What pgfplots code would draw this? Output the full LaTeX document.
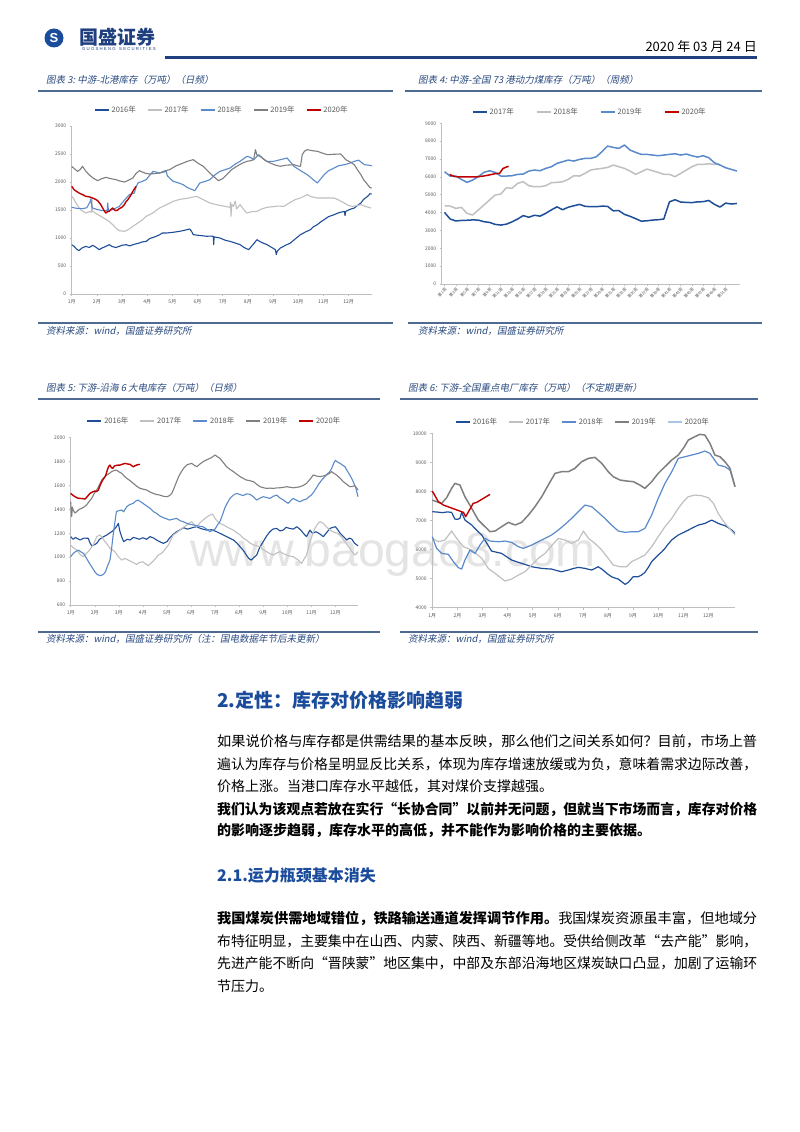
\documentclass[border=0pt]{standalone}
\usepackage{pgfplots}
\pgfplotsset{compat=1.18}
\usepackage{fontspec}
\usepackage{graphicx}
\setmainfont{Noto Sans CJK SC}
\newfontfamily\cjkit[FakeSlant=0.2]{Noto Sans CJK SC}
\newfontfamily\lsans{Liberation Sans}
\definecolor{cA}{HTML}{1F4E99}
\definecolor{cB}{HTML}{C0C0C0}
\definecolor{cC}{HTML}{5A8ACB}
\definecolor{cD}{HTML}{7F7F7F}
\definecolor{cE}{HTML}{C00000}
\definecolor{cF}{HTML}{A9C6E8}
\definecolor{axisgray}{HTML}{BFBFBF}
\definecolor{ticktext}{HTML}{595959}
\definecolor{titleblue}{HTML}{2A4A80}
\definecolor{rulecol}{HTML}{4F6A90}
\definecolor{headblue}{HTML}{1B4C9C}
\definecolor{navy}{HTML}{1F3F7F}
\definecolor{wmark}{HTML}{E4E4E4}
\pgfplotsset{
 chartbase/.style={
   scale only axis, clip=false, scaled ticks=false,
   axis x line*=bottom, axis y line*=left,
   axis line style={draw=axisgray, line width=0.6pt},
   tick style={draw=axisgray, line width=0.5pt},
   major tick length=2pt, tick align=outside,
   ticklabel style={font=\fontsize{5}{6}\selectfont, text=ticktext},
   /pgf/number format/1000 sep={},
   /pgf/number format/assume math mode=true,
   legend style={draw=none, fill=none, font=\fontsize{7.5}{9}\selectfont, text=ticktext,
     legend columns=-1, anchor=center, /tikz/every even column/.append style={column sep=9pt}},
   legend image code/.code={\draw[#1, line width=1.8pt] (0pt,0pt) -- (14pt,0pt);},
   every axis plot/.append style={line join=round},
 },
 monthx/.style={xtick={0,...,11}, xticklabels={1月,2月,3月,4月,5月,6月,7月,8月,9月,10月,11月,12月}},
}
\begin{document}
\begin{tikzpicture}[x=1pt,y=1pt]
\useasboundingbox (0,0) rectangle (800,-1132);
\fill[white] (0,0) rectangle (800,-1132);
% header
\fill[headblue] (54,-38) circle (9.5);
\node[text=white, font=\lsans\bfseries\fontsize{13}{13}\selectfont] at (54,-38) {S};
\node[anchor=west, inner sep=0, text=navy, font=\bfseries\fontsize{19}{19}\selectfont] at (79,-37) {国盛证券};
\node[anchor=west, inner sep=0, text=navy, font=\lsans\fontsize{4.3}{5}\selectfont] at (82,-49) {G U O S H E N G \ \ S E C U R I T I E S};
\draw[navy, line width=2.2pt] (165,-57.5) -- (757,-57.5);
\node[anchor=east, inner sep=0, font=\fontsize{13}{14}\selectfont] at (757,-47) {2020 年 03 月 24 日};
% figure titles and rules
\node[anchor=west, inner sep=0, text=titleblue, font=\cjkit\fontsize{9.5}{10}\selectfont] at (46,-80) {图表 3:\ 中游-北港库存（万吨）（日频）};
\node[anchor=west, inner sep=0, text=titleblue, font=\cjkit\fontsize{9.5}{10}\selectfont] at (418,-80) {图表 4:\ 中游-全国 73 港动力煤库存（万吨）（周频）};
\draw[rulecol, line width=1.4pt] (38,-91) -- (393,-91);
\draw[rulecol, line width=1.4pt] (405,-91) -- (762,-91);
\draw[rulecol, line width=1.4pt] (38,-323) -- (393,-323);
\draw[rulecol, line width=1.4pt] (408,-323) -- (762,-323);
\node[anchor=west, inner sep=0, text=titleblue, font=\cjkit\fontsize{9.5}{10}\selectfont] at (46,-331) {资料来源：wind，国盛证券研究所};
\node[anchor=west, inner sep=0, text=titleblue, font=\cjkit\fontsize{9.5}{10}\selectfont] at (418,-331) {资料来源：wind，国盛证券研究所};
\node[anchor=west, inner sep=0, text=titleblue, font=\cjkit\fontsize{9.5}{10}\selectfont] at (46,-388) {图表 5:\ 下游-沿海 6 大电库存（万吨）（日频）};
\node[anchor=west, inner sep=0, text=titleblue, font=\cjkit\fontsize{9.5}{10}\selectfont] at (408,-388) {图表 6:\ 下游-全国重点电厂库存（万吨）（不定期更新）};
\draw[rulecol, line width=1.4pt] (38,-399) -- (380,-399);
\draw[rulecol, line width=1.4pt] (400,-399) -- (758,-399);
\draw[rulecol, line width=1.4pt] (38,-632) -- (380,-632);
\draw[rulecol, line width=1.4pt] (400,-632) -- (758,-632);
\node[anchor=west, inner sep=0, text=titleblue, font=\cjkit\fontsize{9.5}{10}\selectfont] at (46,-639) {资料来源：wind，国盛证券研究所（注：国电数据年节后未更新）};
\node[anchor=west, inner sep=0, text=titleblue, font=\cjkit\fontsize{9.5}{10}\selectfont] at (408,-639) {资料来源：wind，国盛证券研究所};
% watermark
\node[anchor=base west, inner sep=0, text=wmark, font=\lsans\fontsize{48}{48}\selectfont] at (190,-566) {www.baogao8.com};

% ---------- Chart 3 ----------
\begin{axis}[chartbase, monthx, at={(71.7pt,-294pt)}, anchor=south west,
  width=300pt, height=168pt, xmin=0, xmax=11.92, ymin=0, ymax=3000, ytick={0,500,...,3000},
  legend style={at={(0.5,1.095)}}]
\addplot[cA, line width=1.1pt] coordinates {(0,880)(0.1,850)(0.2,800)(0.29,774)(0.4,820)(0.56,851)(0.7,830)(0.83,869)(0.95,840)(1.09,792)(1.2,820)(1.36,851)(1.49,881)(1.6,850)(1.75,830)(1.89,851)(2.0,870)(2.16,881)(2.3,860)(2.5,890)(2.69,911)(2.8,930)(2.96,940)(3.1,990)(3.36,1030)(3.5,1060)(3.6,1090)(3.76,1089)(4.0,1100)(4.29,1119)(4.5,1140)(4.69,1161)(4.76,1120)(4.83,1060)(5.0,1050)(5.2,1040)(5.36,1030)(5.5,1035)(5.63,1030)(5.64,881)(5.66,1020)(5.89,1000)(6.1,960)(6.29,940)(6.5,910)(6.69,881)(6.85,830)(7.03,792)(7.2,880)(7.36,970)(7.5,930)(7.76,881)(7.95,830)(8.09,792)(8.13,702)(8.16,760)(8.29,821)(8.5,870)(8.69,911)(8.9,990)(9.09,1060)(9.3,1110)(9.49,1149)(9.6,1200)(9.76,1238)(9.9,1290)(10.03,1327)(10.2,1380)(10.43,1417)(10.6,1450)(10.83,1476)(10.86,1400)(10.89,1476)(11.05,1510)(11.23,1536)(11.35,1580)(11.49,1625)(11.6,1690)(11.76,1744)(11.85,1790)(11.92,1786)};
\addlegendentry{2016年}
\addplot[cB, line width=1.1pt] coordinates {(0,1744)(0.08,1700)(0.15,1640)(0.29,1536)(0.4,1490)(0.56,1446)(0.7,1470)(0.78,1460)(0.8,1714)(0.83,1480)(0.95,1440)(1.09,1405)(1.3,1350)(1.5,1290)(1.63,1238)(1.75,1180)(1.89,1131)(2.09,1119)(2.25,1150)(2.43,1208)(2.6,1260)(2.8,1320)(2.96,1387)(3.2,1440)(3.49,1536)(3.7,1580)(4.03,1655)(4.3,1690)(4.6,1710)(4.96,1744)(5.2,1690)(5.49,1625)(5.8,1590)(6.1,1565)(6.29,1548)(6.31,1640)(6.33,1387)(6.36,1600)(6.43,1565)(6.5,1660)(6.55,1520)(6.69,1595)(6.85,1500)(6.96,1446)(7.15,1470)(7.36,1476)(7.55,1520)(7.76,1548)(8.0,1560)(8.2,1570)(8.43,1565)(8.7,1640)(8.9,1690)(9.09,1714)(9.25,1750)(9.36,1774)(9.5,1740)(9.76,1714)(10.1,1714)(10.43,1714)(10.6,1680)(10.83,1625)(11.0,1580)(11.16,1565)(11.35,1580)(11.49,1595)(11.7,1560)(11.89,1536)};
\addlegendentry{2017年}
\addplot[cC, line width=1.1pt] coordinates {(0,1548)(0.2,1530)(0.43,1524)(0.6,1540)(0.74,1655)(0.76,1700)(0.8,1560)(0.83,1536)(1.0,1510)(1.23,1488)(1.41,1490)(1.43,1625)(1.46,1488)(1.6,1500)(1.89,1565)(2.1,1680)(2.29,1774)(2.49,1804)(2.55,1900)(2.63,1982)(2.8,2010)(2.96,2042)(3.1,2120)(3.23,2190)(3.49,2161)(3.6,2170)(3.76,2190)(3.8,2110)(4.03,2012)(4.2,1990)(4.43,1952)(4.6,1900)(4.89,1845)(5.09,1982)(5.3,2010)(5.49,2042)(5.7,2130)(5.89,2190)(6.1,2220)(6.29,2250)(6.5,2320)(6.69,2369)(6.96,2458)(7.1,2440)(7.23,2399)(7.43,2488)(7.6,2420)(7.76,2369)(8.03,2369)(8.3,2400)(8.56,2428)(8.83,2280)(9.1,2200)(9.36,2131)(9.6,2040)(9.76,1982)(10.03,2131)(10.2,2200)(10.43,2250)(10.6,2290)(10.83,2309)(11.0,2330)(11.23,2369)(11.4,2390)(11.63,2309)(11.8,2300)(11.92,2290)};
\addlegendentry{2018年}
\addplot[cD, line width=1.1pt] coordinates {(0,2280)(0.1,2240)(0.23,2190)(0.33,2220)(0.43,2280)(0.55,2200)(0.69,2131)(0.85,2070)(1.03,2024)(1.2,2060)(1.36,2083)(1.55,2060)(1.76,2042)(1.9,2020)(2.09,2000)(2.25,2030)(2.43,2071)(2.55,2150)(2.69,2202)(2.9,2160)(3.09,2143)(3.3,2150)(3.49,2161)(3.7,2200)(3.89,2220)(4.15,2290)(4.43,2339)(4.6,2370)(4.83,2399)(5.0,2340)(5.23,2280)(5.4,2200)(5.63,2101)(5.83,2024)(6.0,2060)(6.16,2131)(6.35,2220)(6.56,2280)(6.75,2330)(6.96,2369)(7.1,2380)(7.23,2399)(7.3,2577)(7.36,2480)(7.49,2458)(7.7,2380)(7.89,2339)(8.1,2300)(8.29,2280)(8.5,2300)(8.83,2309)(9.0,2285)(9.09,2280)(9.16,2488)(9.25,2550)(9.36,2577)(9.55,2560)(9.76,2548)(10.0,2510)(10.16,2488)(10.4,2495)(10.69,2500)(10.89,2399)(11.05,2360)(11.23,2309)(11.35,2220)(11.49,2131)(11.6,2040)(11.76,1952)(11.85,1900)(11.92,1893)};
\addlegendentry{2019年}
\addplot[cE, line width=1.4pt] coordinates {(0,1923)(0.1,1860)(0.29,1804)(0.45,1770)(0.56,1744)(0.7,1735)(0.83,1714)(0.95,1690)(1.03,1667)(1.15,1600)(1.23,1536)(1.3,1480)(1.36,1446)(1.42,1470)(1.49,1476)(1.56,1510)(1.63,1536)(1.7,1500)(1.76,1488)(1.83,1500)(1.89,1524)(2.0,1550)(2.09,1595)(2.16,1650)(2.23,1684)(2.3,1730)(2.36,1774)(2.45,1850)(2.56,1923)};
\addlegendentry{2020年}
\end{axis}

% ---------- Chart 4 ----------
\begin{axis}[chartbase, at={(441.7pt,-284pt)}, anchor=south west,
  width=298pt, height=160.7pt, xmin=0.5, xmax=53.5, ymin=0, ymax=9000, ytick={0,1000,...,9000},
  xtick={1,3,...,51}, xticklabel={第\pgfmathprintnumber{\tick}周},
  xticklabel style={rotate=45, anchor=north east, font=\fontsize{4}{4.5}\selectfont, inner sep=0.8pt},
  legend style={at={(0.497,1.072)}, /tikz/every even column/.append style={column sep=20pt}}]
\addplot[cA, line width=1.5pt] coordinates {(1,4010)(2,3640)(3,3530)(4,3560)(5,3570)(6,3590)(7,3580)(8,3490)(9,3450)(10,3340)(11,3300)(12,3350)(13,3480)(14,3640)(15,3830)(16,3740)(17,3850)(18,3800)(19,3960)(20,4150)(21,4320)(22,4160)(23,4300)(24,4380)(25,4460)(26,4350)(27,4330)(28,4330)(29,4360)(30,4350)(31,4100)(32,4110)(33,3900)(34,3790)(35,3660)(36,3520)(37,3540)(38,3580)(39,3600)(40,3640)(41,4600)(42,4720)(43,4590)(44,4570)(45,4560)(46,4600)(47,4610)(48,4680)(49,4460)(50,4310)(51,4530)(52,4480)(53,4510)};
\addlegendentry{2017年}
\addplot[cB, line width=1.5pt] coordinates {(1,4385)(2,4366)(3,4236)(4,4292)(5,3956)(6,3863)(7,4143)(8,4422)(9,4702)(10,4982)(11,5038)(12,5393)(13,5355)(14,5635)(15,5729)(16,5505)(17,5449)(18,5449)(19,5505)(20,5673)(21,5691)(22,5729)(23,5859)(24,6064)(25,6046)(26,6195)(27,6382)(28,6438)(29,6475)(30,6531)(31,6662)(32,6569)(33,6475)(34,6326)(35,6139)(36,6288)(37,6438)(38,6345)(39,6251)(40,6139)(41,6139)(42,6009)(43,6195)(44,6382)(45,6569)(46,6699)(47,6699)(48,6736)(49,6699)(50,6700)};
\addlegendentry{2018年}
\addplot[cC, line width=1.5pt] coordinates {(1,6288)(2,6046)(3,6046)(4,5859)(5,5691)(6,5822)(7,6009)(8,6251)(9,6345)(10,6251)(11,6046)(12,6046)(13,6064)(14,6139)(15,6158)(16,6326)(17,6382)(18,6345)(19,6475)(20,6569)(21,6755)(22,6848)(23,6941)(24,6885)(25,6979)(26,7035)(27,7035)(28,7128)(29,7408)(30,7725)(31,7650)(32,7595)(33,7781)(34,7501)(35,7371)(36,7259)(37,7259)(38,7222)(39,7184)(40,7222)(41,7259)(42,7296)(43,7222)(44,7278)(45,7184)(46,7109)(47,7184)(48,7072)(49,6792)(50,6662)(51,6512)(52,6420)(53,6326)};
\addlegendentry{2019年}
\addplot[cE, line width=1.5pt] coordinates {(1.9,6140)(2.5,6050)(3,6010)(4,6000)(5,6000)(6,6000)(7,6010)(8,6050)(9,6110)(10,6180)(10.8,6200)(11.4,6470)(12,6550)(12.4,6590)};
\addlegendentry{2020年}
\end{axis}

% ---------- Chart 5 ----------
\begin{axis}[chartbase, monthx, at={(70.7pt,-605pt)}, anchor=south west,
  width=287.3pt, height=167.3pt, xmin=0, xmax=11.94, ymin=600, ymax=2000, ytick={600,800,...,2000},
  legend style={at={(0.5,1.10)}}]
\addplot[cA, line width=1.1pt] coordinates {(0,1172)(0.1,1150)(0.2,1165)(0.39,1144)(0.55,1160)(0.73,1158)(0.8,1120)(0.87,1096)(1.0,1105)(1.08,1116)(1.2,1150)(1.35,1170)(1.5,1186)(1.6,1200)(1.7,1213)(1.8,1230)(1.9,1255)(1.98,1283)(2.02,1240)(2.05,1213)(2.12,1170)(2.2,1130)(2.35,1150)(2.47,1144)(2.6,1165)(2.74,1158)(2.85,1150)(3.0,1163)(3.15,1150)(3.3,1172)(3.45,1160)(3.57,1144)(3.7,1130)(3.85,1116)(4.0,1130)(4.1,1158)(4.25,1190)(4.4,1213)(4.55,1230)(4.7,1247)(4.85,1235)(4.96,1241)(5.1,1250)(5.24,1255)(5.4,1240)(5.65,1227)(5.85,1230)(6.07,1213)(6.3,1190)(6.48,1172)(6.6,1160)(6.76,1144)(6.9,1120)(7.04,1088)(7.2,1050)(7.3,1018)(7.4,990)(7.5,976)(7.6,995)(7.73,1018)(7.85,1080)(8.0,1130)(8.15,1180)(8.28,1213)(8.4,1235)(8.56,1241)(8.7,1220)(8.84,1227)(8.95,1250)(9.1,1241)(9.25,1235)(9.4,1255)(9.55,1230)(9.67,1200)(9.8,1172)(9.94,1227)(10.05,1200)(10.2,1213)(10.35,1195)(10.5,1172)(10.65,1210)(10.78,1241)(10.9,1250)(11.0,1255)(11.1,1230)(11.2,1200)(11.35,1170)(11.47,1144)(11.58,1160)(11.68,1152)(11.8,1116)(11.94,1096)};
\addlegendentry{2016年}
\addplot[cB, line width=1.1pt] coordinates {(0,1102)(0.1,1080)(0.25,1060)(0.4,1020)(0.53,1004)(0.63,1030)(0.73,1046)(0.85,1080)(0.94,1102)(1.08,1172)(1.22,1186)(1.3,1165)(1.43,1130)(1.55,1100)(1.63,1074)(1.75,1060)(1.84,1046)(1.98,1004)(2.12,976)(2.26,990)(2.4,975)(2.47,968)(2.6,955)(2.74,940)(2.85,955)(3.0,962)(3.1,945)(3.23,929)(3.33,950)(3.43,968)(3.55,995)(3.64,1018)(3.75,1030)(3.85,1046)(3.95,1075)(4.06,1102)(4.15,1140)(4.26,1186)(4.4,1205)(4.54,1227)(4.68,1250)(4.82,1269)(4.92,1285)(5.03,1297)(5.15,1270)(5.24,1255)(5.38,1290)(5.5,1311)(5.65,1335)(5.79,1353)(5.9,1360)(6.0,1325)(6.1,1300)(6.2,1283)(6.35,1270)(6.48,1255)(6.62,1240)(6.76,1227)(6.9,1205)(7.04,1186)(7.17,1160)(7.3,1144)(7.45,1120)(7.6,1102)(7.73,1095)(7.87,1088)(8.0,1065)(8.14,1046)(8.28,1030)(8.42,1018)(8.56,1035)(8.7,1046)(8.84,1030)(8.98,1018)(9.1,1010)(9.25,1004)(9.35,990)(9.46,976)(9.53,960)(9.6,948)(9.7,985)(9.8,1018)(9.87,1070)(9.94,1130)(10.05,1190)(10.15,1241)(10.25,1275)(10.36,1297)(10.5,1283)(10.6,1260)(10.7,1241)(10.8,1225)(10.9,1213)(11.0,1205)(11.1,1200)(11.25,1170)(11.4,1130)(11.5,1100)(11.6,1074)(11.7,1045)(11.8,1018)(11.88,1030)(11.94,1046)};
\addlegendentry{2017年}
\addplot[cC, line width=1.1pt] coordinates {(0,1004)(0.05,1018)(0.15,1040)(0.32,1060)(0.42,1045)(0.53,1032)(0.6,1010)(0.66,990)(0.76,955)(0.87,921)(1.0,879)(1.08,860)(1.15,851)(1.25,845)(1.36,857)(1.45,880)(1.52,921)(1.58,950)(1.63,976)(1.67,1030)(1.7,1074)(1.75,1160)(1.8,1240)(1.84,1297)(1.9,1381)(2.0,1390)(2.12,1395)(2.2,1380)(2.33,1423)(2.45,1440)(2.6,1451)(2.7,1470)(2.8,1478)(2.9,1465)(3.0,1451)(3.15,1430)(3.3,1409)(3.45,1380)(3.57,1367)(3.7,1345)(3.85,1331)(4.0,1320)(4.1,1311)(4.25,1318)(4.4,1325)(4.55,1305)(4.68,1297)(4.8,1285)(4.96,1275)(5.1,1270)(5.24,1264)(5.38,1258)(5.5,1255)(5.65,1235)(5.79,1213)(5.9,1225)(6.0,1236)(6.1,1270)(6.2,1297)(6.3,1350)(6.4,1409)(6.5,1450)(6.62,1492)(6.76,1520)(6.9,1534)(7.03,1525)(7.17,1515)(7.3,1530)(7.45,1526)(7.6,1505)(7.73,1478)(7.87,1495)(8.0,1506)(8.14,1500)(8.28,1492)(8.42,1510)(8.56,1520)(8.7,1495)(8.84,1478)(8.95,1462)(9.04,1451)(9.15,1475)(9.25,1492)(9.4,1475)(9.53,1464)(9.66,1478)(9.8,1487)(9.9,1505)(10.0,1520)(10.1,1545)(10.2,1576)(10.3,1610)(10.4,1637)(10.52,1665)(10.64,1693)(10.75,1712)(10.84,1740)(10.94,1790)(11.0,1810)(11.1,1795)(11.2,1785)(11.3,1770)(11.4,1757)(11.5,1720)(11.6,1688)(11.7,1650)(11.77,1618)(11.85,1580)(11.94,1506)};
\addlegendentry{2018年}
\addplot[cD, line width=1.1pt] coordinates {(0,1464)(0.02,1380)(0.04,1339)(0.07,1420)(0.1,1395)(0.18,1370)(0.25,1381)(0.35,1400)(0.46,1409)(0.55,1420)(0.66,1437)(0.76,1465)(0.87,1492)(0.97,1530)(1.08,1562)(1.18,1600)(1.29,1646)(1.4,1670)(1.5,1688)(1.6,1700)(1.7,1716)(1.8,1725)(1.9,1729)(2.0,1715)(2.12,1702)(2.22,1680)(2.33,1660)(2.47,1640)(2.6,1618)(2.74,1595)(2.88,1576)(3.0,1570)(3.16,1562)(3.3,1545)(3.43,1534)(3.56,1525)(3.7,1520)(3.85,1510)(4.0,1506)(4.1,1515)(4.2,1534)(4.3,1580)(4.4,1632)(4.5,1680)(4.6,1716)(4.7,1745)(4.82,1771)(4.93,1780)(5.03,1785)(5.13,1770)(5.24,1757)(5.37,1780)(5.5,1799)(5.65,1815)(5.79,1827)(5.9,1840)(6.0,1855)(6.1,1840)(6.2,1827)(6.35,1790)(6.48,1757)(6.62,1735)(6.76,1716)(6.9,1695)(7.04,1674)(7.17,1660)(7.3,1646)(7.45,1640)(7.6,1632)(7.73,1610)(7.87,1590)(8.0,1582)(8.14,1576)(8.28,1578)(8.42,1576)(8.56,1580)(8.7,1581)(8.84,1585)(8.98,1590)(9.1,1586)(9.25,1581)(9.4,1585)(9.53,1590)(9.66,1600)(9.8,1618)(9.94,1650)(10.08,1688)(10.2,1680)(10.36,1674)(10.5,1680)(10.64,1688)(10.74,1700)(10.84,1716)(10.95,1700)(11.05,1688)(11.2,1660)(11.33,1632)(11.47,1610)(11.6,1590)(11.7,1592)(11.8,1598)(11.88,1580)(11.94,1562)};
\addlegendentry{2019年}
\addplot[cE, line width=1.4pt] coordinates {(0,1534)(0.08,1520)(0.18,1506)(0.28,1495)(0.39,1492)(0.5,1490)(0.6,1487)(0.7,1510)(0.8,1534)(0.9,1545)(1.0,1554)(1.08,1550)(1.15,1562)(1.22,1600)(1.29,1632)(1.36,1655)(1.43,1674)(1.48,1700)(1.52,1729)(1.58,1760)(1.63,1771)(1.69,1750)(1.75,1743)(1.8,1760)(1.84,1766)(1.95,1770)(2.05,1771)(2.15,1778)(2.26,1785)(2.36,1780)(2.47,1777)(2.54,1765)(2.6,1757)(2.67,1765)(2.74,1771)(2.81,1775)(2.88,1777)};
\addlegendentry{2020年}
\end{axis}

% ---------- Chart 6 ----------
\begin{axis}[chartbase, monthx, at={(432.3pt,-607.7pt)}, anchor=south west,
  width=302.7pt, height=174.4pt, xmin=0, xmax=12.06, ymin=4000, ymax=10000, ytick={4000,5000,...,10000},
  legend style={at={(0.498,1.067)}}]
\addplot[cA, line width=1.2pt] coordinates {(0,7303)(0.2,7290)(0.4,7270)(0.6,7295)(0.77,7280)(0.9,7050)(1.0,7040)(1.1,7073)(1.17,7280)(1.3,7016)(1.45,6920)(1.57,6844)(1.75,6680)(1.97,6500)(2.15,6250)(2.36,5950)(2.55,5910)(2.76,5869)(2.95,5760)(3.16,5640)(3.36,5580)(3.56,5525)(3.76,5470)(3.96,5410)(4.16,5380)(4.36,5353)(4.55,5340)(4.75,5330)(4.95,5280)(5.15,5238)(5.3,5270)(5.42,5296)(5.62,5350)(5.82,5388)(6.08,5353)(6.35,5296)(6.48,5350)(6.61,5410)(6.75,5330)(6.88,5238)(7.0,5150)(7.14,5066)(7.27,5020)(7.41,4986)(7.55,4890)(7.68,4803)(7.81,4872)(7.9,4960)(8.0,5066)(8.2,5066)(8.33,5120)(8.47,5216)(8.6,5380)(8.74,5583)(8.87,5700)(9.0,5812)(9.14,5920)(9.27,6041)(9.4,6190)(9.54,6330)(9.67,6420)(9.8,6500)(9.94,6560)(10.07,6615)(10.2,6670)(10.33,6730)(10.47,6790)(10.6,6844)(10.73,6870)(10.86,6901)(11.0,6960)(11.13,7016)(11.26,6960)(11.39,6901)(11.52,6860)(11.66,6821)(11.8,6750)(11.93,6672)(12.06,6557)};
\addlegendentry{2016年}
\addplot[cB, line width=1.2pt] coordinates {(0,6385)(0.24,6270)(0.5,6328)(0.77,6638)(0.97,6385)(1.24,6099)(1.57,5984)(1.97,5697)(2.23,5353)(2.5,5181)(2.76,5009)(2.9,4917)(3.16,4986)(3.43,5124)(3.69,5238)(3.96,5468)(4.22,5697)(4.49,5869)(4.75,6133)(5.02,6385)(5.29,6328)(5.55,6213)(5.82,6328)(6.02,6638)(6.22,6385)(6.48,6213)(6.75,5984)(7.01,5697)(7.21,5468)(7.48,5410)(7.74,5410)(7.94,5583)(8.21,5697)(8.47,5812)(8.74,6099)(9.0,6443)(9.27,6787)(9.54,7073)(9.8,7417)(10.0,7647)(10.2,7819)(10.46,7876)(10.73,7853)(11.0,7784)(11.2,7589)(11.39,7245)(11.66,6901)(11.86,6706)(12.06,6500)};
\addlegendentry{2017年}
\addplot[cC, line width=1.2pt] coordinates {(0,6443)(0.17,6041)(0.37,5869)(0.64,5835)(0.84,5583)(1.04,5376)(1.17,5330)(1.3,5640)(1.5,5984)(1.7,5869)(1.9,6156)(2.1,6385)(2.3,6293)(2.63,6270)(2.9,6293)(3.16,6248)(3.43,6099)(3.63,6041)(3.96,6156)(4.22,6270)(4.49,6385)(4.75,6500)(5.02,6672)(5.29,6867)(5.55,7073)(5.82,7303)(6.08,7532)(6.35,7475)(6.61,7280)(6.88,7073)(7.14,6844)(7.41,6638)(7.68,6592)(7.94,6615)(8.21,6615)(8.47,6730)(8.74,7188)(9.0,7761)(9.27,8278)(9.54,8679)(9.8,9138)(10.07,9195)(10.33,9252)(10.6,9310)(10.86,9390)(11.06,9310)(11.2,9138)(11.39,8908)(11.66,8851)(11.86,8736)(12.06,8163)};
\addlegendentry{2018年}
\addplot[cD, line width=1.5pt] coordinates {(0,7704)(0.17,7647)(0.37,7589)(0.57,7784)(0.77,8106)(0.9,8278)(1.1,8220)(1.3,7819)(1.57,7417)(1.83,7016)(2.1,6787)(2.3,6615)(2.5,6638)(2.76,6787)(3.03,6936)(3.3,6844)(3.56,6936)(3.83,7188)(4.09,7475)(4.36,7819)(4.62,8220)(4.89,8622)(5.15,8679)(5.42,8679)(5.68,8794)(5.95,9023)(6.22,9138)(6.48,9172)(6.75,8966)(7.01,8679)(7.21,8507)(7.48,8392)(7.74,8358)(8.01,8335)(8.27,8220)(8.47,8106)(8.74,8335)(9.0,8622)(9.27,8851)(9.54,9080)(9.8,9252)(10.0,9482)(10.2,9768)(10.46,9883)(10.66,9963)(10.86,9940)(11.06,9654)(11.26,9252)(11.46,9195)(11.66,9023)(11.86,8794)(12.06,8163)};
\addlegendentry{2019年}
\addlegendimage{cF, line width=1.8pt}
\addlegendentry{2020年}
\addplot[cE, line width=1.4pt, forget plot] coordinates {(0,8014)(0.24,7647)(0.44,7532)(1.24,7280)(1.33,7131)(1.63,7590)(1.77,7624)(2.3,7899)};
\end{axis}

% ---------- body text ----------
\node[anchor=west, inner sep=0, text=headblue, font=\bfseries\fontsize{19}{20}\selectfont] at (217,-700) {2.定性：库存对价格影响趋弱};
\begin{scope}[every node/.style={anchor=west, inner sep=0, font=\fontsize{14}{15}\selectfont}]
\node at (217,-741) {\resizebox{540pt}{\height}{如果说价格与库存都是供需结果的基本反映，那么他们之间关系如何？目前，市场上普}};
\node at (217,-764) {\resizebox{540pt}{\height}{遍认为库存与价格呈明显反比关系，体现为库存增速放缓或为负，意味着需求边际改善，}};
\node at (217,-786) {价格上涨。当港口库存水平越低，其对煤价支撑越强。};
\node at (217,-809) {\resizebox{540pt}{\height}{\bfseries 我们认为该观点若放在实行“长协合同”以前并无问题，但就当下市场而言，库存对价格}};
\node at (217,-831) {\bfseries 的影响逐步趋弱，库存水平的高低，并不能作为影响价格的主要依据。};
\node at (217,-918) {\resizebox{540pt}{\height}{{\bfseries 我国煤炭供需地域错位，铁路输送通道发挥调节作用。}我国煤炭资源虽丰富，但地域分}};
\node at (217,-941) {\resizebox{540pt}{\height}{布特征明显，主要集中在山西、内蒙、陕西、新疆等地。受供给侧改革“去产能”影响，}};
\node at (217,-963) {\resizebox{540pt}{\height}{先进产能不断向“晋陕蒙”地区集中，中部及东部沿海地区煤炭缺口凸显，加剧了运输环}};
\node at (217,-986) {节压力。};
\end{scope}
\node[anchor=west, inner sep=0, text=headblue, font=\bfseries\fontsize{16}{17}\selectfont] at (217,-876) {2.1.运力瓶颈基本消失};
\end{tikzpicture}
\end{document}
